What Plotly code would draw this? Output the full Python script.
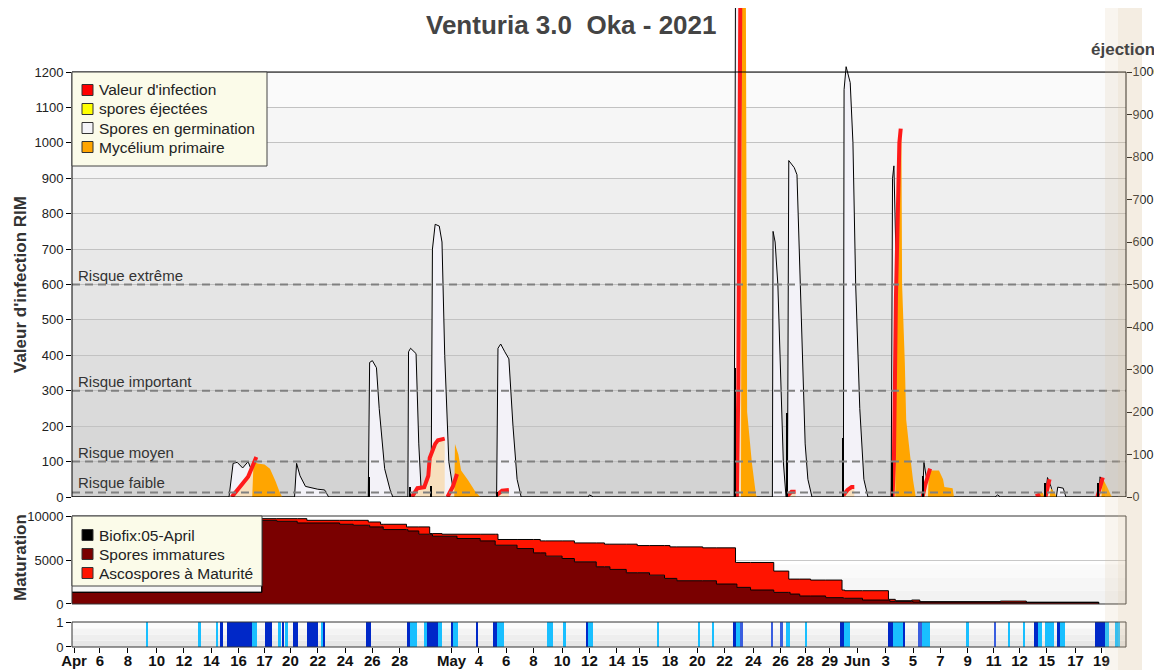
import plotly.graph_objects as go

# axe horizontal : jours depuis le 1er avril (echelle commune aux 3 panneaux)
tick_pos = [0.15, 2.05, 4.1, 6.2, 8.2, 10.2, 12.2, 14.1, 16.0, 18.0, 20.0, 22.0, 24.0, 27.8, 29.8,
            31.8, 33.8, 35.9, 37.9, 39.9, 41.6, 43.8, 45.8, 47.8, 49.9, 51.9, 53.7, 55.5, 57.5,
            59.6, 61.6, 63.6, 65.6, 67.5, 69.4, 71.4, 73.5, 75.4]
tick_txt = ['Apr', '6', '8', '10', '12', '14', '16', '17', '20', '22', '24', '26', '28', 'May', '4',
            '6', '8', '10', '12', '14', '15', '18', '20', '22', '24', '26', '28', '29', 'Jun',
            '3', '5', '7', '9', '11', '12', '15', '17', '19']

# Spores en germination (RIM)
germ_x = [0, 11.5, 11.8, 12.1, 12.5, 12.9, 13.3, 13.7,
          16.3, 16.45, 16.7, 17.1, 18.0, 18.5, 18.8,
          21.7, 21.8, 22.0, 22.3, 22.5, 22.9, 23.3, 23.5,
          24.6, 24.65, 24.8, 25.2, 25.4, 25.6,
          26.3, 26.4, 26.6, 26.9, 27.1, 27.3, 27.6, 28.0,
          31.1, 31.2, 31.4, 31.7, 32.0, 32.3, 32.6, 32.9,
          37.8, 37.9, 38.2,
          48.5, 48.6, 49.0, 49.3, 49.6,
          51.3, 51.35, 51.5, 51.7, 51.9, 52.1, 52.3,
          52.4, 52.5, 52.9, 53.1, 53.4, 53.7, 53.9, 54.2,
          56.5, 56.55, 56.7, 57.0, 57.2, 57.4, 57.7, 58.0, 58.3,
          60.0, 60.1, 60.2, 60.4, 60.6, 60.9,
          62.3, 62.4, 62.6, 62.8,
          67.6, 67.8, 68.0,
          71.3, 71.45, 71.7, 71.9, 72.1, 72.2, 72.6, 72.8,
          75.2, 75.3, 75.5, 75.7, 77.2]
germ_y = [0, 0, 95, 98, 82, 100, 60, 0,
          0, 95, 60, 30, 22, 20, 0,
          0, 380, 385, 365, 250, 80, 20, 0,
          0, 410, 420, 405, 150, 0,
          0, 700, 770, 765, 720, 400, 100, 0,
          0, 420, 432, 410, 390, 200, 50, 0,
          0, 6, 0,
          0, 1500, 1500, 300, 0,
          0, 750, 720, 600, 350, 100, 0,
          0, 950, 930, 910, 500, 150, 50, 0,
          0, 1150, 1215, 1170, 1000, 600, 250, 50, 0,
          0, 900, 935, 600, 200, 0,
          0, 98, 50, 0,
          0, 6, 0,
          0, 55, 30, 0, 0, 28, 25, 0,
          0, 57, 40, 0, 0]

# Valeur d'infection (RIM)
inf_x = [11.7, 12.5, 12.9, 13.2, 13.5, None,
         24.9, 25.3, 25.8, 26.1, 26.2, 26.6, 26.8, 27.3, None,
         27.5, 27.9, 28.2, None,
         31.1, 31.5, 32.0, None,
         48.7, 48.8, 48.95, 49.0, None,
         52.4, 52.7, 53.0, None,
         56.5, 56.8, 57.1, 57.3, None,
         60.1, 60.2, 60.35, 60.6, 60.7, None,
         62.3, 62.5, 62.85, None,
         70.6, 70.9, None,
         71.3, 71.6, None,
         75.1, 75.5]
inf_y = [0, 40, 57, 85, 113, None,
         0, 25, 28, 60, 110, 150, 160, 165, None,
         0, 30, 65, None,
         5, 18, 20, None,
         0, 300, 1400, 1500, None,
         3, 15, 15, None,
         5, 20, 28, 28, None,
         0, 96, 565, 1000, 1040, None,
         0, 35, 80, None,
         2, 8, None,
         0, 50, None,
         0, 55]

# Mycelium primaire (RIM)
myc_x = [13.2, 13.3, 13.6, 14.1, 14.5, 14.9, 15.2, 15.4, None,
         28.0, 28.05, 28.3, 28.5, 29.0, 29.5, 29.9, None,
         49.0, 49.05, 49.35, 49.45, 49.8, 50.1, 50.2, None,
         60.3, 60.35, 60.6, 60.75, 60.8, 61.0, 61.1, 61.4, 61.6, 61.8, None,
         62.7, 62.75, 63.5, 63.8, 63.9, 64.5, 64.6, None,
         70.7, 70.8, 71.1, 71.2, None,
         71.6, 71.7, 72.0, 72.1, None,
         75.4, 75.5, 75.8, 76.1, 76.2]
myc_y = [0, 100, 95, 92, 80, 45, 15, 0, None,
         0, 150, 120, 75, 48, 18, 0, None,
         0, 1500, 1500, 240, 96, 5, 0, None,
         0, 400, 900, 1030, 600, 380, 218, 113, 48, 0, None,
         0, 75, 75, 50, 28, 25, 0, None,
         0, 12, 12, 0, None,
         0, 25, 10, 0, None,
         0, 52, 30, 5, 0]

# ejection (axe de droite)
ej_x = [21.75, 24.75, 26.3, 31.1, 48.55, 52.4, 56.5, 60.05, 62.3, 71.3, 75.15]
ej_y = [48, 23, 25, 12, 303, 198, 138, 83, 50, 33, 33]

# maturation (paliers)
mat_x = [0, 13.9, 15.0, 16.5, 17.2, 19.6, 20.6, 21.7, 21.8, 22.6, 22.8, 24.5, 24.6, 25.4, 26.2,
         26.4, 27.1, 28.2, 29.9, 31.0, 31.2, 32.6, 33.8, 34.3, 34.7, 35.9, 36.8, 38.4, 39.0,
         39.4, 40.6, 41.4, 42.3, 43.4, 43.8, 44.3, 46.2, 47.2, 48.6, 48.7, 49.7, 51.4, 52.5,
         52.6, 53.3, 54.1, 55.2, 56.4, 56.5, 56.6, 57.9, 59.8, 59.9, 60.3, 61.5, 61.6, 62.1,
         68.0, 69.9, 75.2]
mat_total = [1330, 9700, 9700, 9700, 9510, 9510, 9510, 9320, 9320, 9060, 9060, 8760, 8760, 8760,
             8000, 8000, 7930, 7930, 7930, 7930, 7330, 7330, 7330, 7170, 7170, 7170, 6940, 6940,
             6800, 6800, 6800, 6640, 6640, 6640, 6490, 6490, 6380, 6380, 4720, 4720, 4720, 3740,
             2830, 2830, 2830, 2720, 2720, 1590, 1590, 1510, 1510, 530, 530, 370, 450, 450, 260,
             330, 190, 0]
mat_immat = [1330, 9510, 9400, 9210, 9210, 9060, 8950, 8950, 8760, 8760, 8460, 8460, 8300, 7930,
             7930, 7700, 7700, 7440, 7170, 6680, 6680, 6300, 5810, 5810, 5440, 5170, 4790, 4230,
             4230, 3930, 3550, 3550, 3280, 2910, 2910, 2640, 2640, 2270, 2270, 1890, 1590, 1320,
             1320, 1130, 910, 910, 720, 720, 650, 650, 450, 450, 300, 300, 300, 230, 230, 150,
             190, 0]

# periodes de mouillure (debut, fin) par intensite
wet_light_start = [5.45, 9.30, 10.60, 13.16, 15.07, 15.60, 18.29, 24.76, 25.81, 26.84, 27.93, 31.11,
                   34.78, 35.99, 37.82, 42.88, 45.84, 46.91, 48.64, 52.31, 53.70, 56.51, 60.17,
                   62.25, 65.55, 68.59, 69.69, 70.77, 71.28, 72.38, 75.68, 76.41]
wet_light_end = [5.55, 9.43, 10.70, 13.53, 15.29, 15.85, 18.39, 25.25, 25.99, 27.08, 28.26, 31.67,
                 35.26, 36.17, 38.19, 43.03, 46.01, 47.01, 48.99, 52.60, 53.82, 57.00, 60.90,
                 62.86, 65.69, 68.72, 69.82, 71.04, 71.89, 72.75, 75.92, 76.78]
wet_dark_start = [10.84, 11.33, 14.14, 15.36, 16.17, 17.19, 18.39, 21.52, 24.56, 25.99, 27.82, 29.65,
                  30.82, 37.66, 48.45, 56.26, 59.76, 60.90, 70.43, 72.14, 74.95]
wet_dark_end = [11.04, 13.16, 14.63, 15.55, 16.53, 18.04, 18.46, 21.88, 24.76, 26.84, 27.93, 29.72,
                31.11, 37.82, 48.64, 56.51, 60.17, 61.03, 70.77, 72.38, 75.68]
wet_mid_start = [48.99, 51.21, 51.87, 62.00, 67.55]
wet_mid_end = [49.13, 51.33, 52.07, 62.25, 67.69]

risk_levels = [600, 300, 100, 13]
risk_labels = ['Risque extrême', 'Risque important', 'Risque moyen', 'Risque faible']

legend1_names = ["Valeur d'infection", 'spores éjectées', 'Spores en germination', 'Mycélium primaire']
legend1_colors = ['#ff0000', '#ffff00', '#f4f4f8', '#ffa500']
legend2_names = ['Biofix:05-April', 'Spores immatures', 'Ascospores à Maturité']
legend2_colors = ['#000000', '#7a0000', '#ff1400']

FONT = 'Liberation Sans, Arial, sans-serif'
XMAX = 77.2
Y_TOP = 1380.7          # la zone du graphe monte jusqu'au haut de l'image
Y2_TOP = Y_TOP * 1000 / 1200


def segments(xs, ys):
    segs, cx, cy = [], [], []
    for a, b in zip(xs, ys):
        if a is None:
            segs.append((cx, cy))
            cx, cy = [], []
        else:
            cx.append(a)
            cy.append(b)
    if cx:
        segs.append((cx, cy))
    return segs


def px_x(px):  # pixel de l'image -> coordonnee papier
    return (px - 72) / 1054


def px_y(py):
    return (647 - py) / 639


fig = go.Figure()

# --- panneau RIM
fig.add_trace(go.Scatter(x=germ_x, y=germ_y, mode='lines', fill='tozeroy', fillcolor='#f3f2f8',
                         line=dict(color='black', width=1), showlegend=False, hoverinfo='skip'))
for sx, sy in segments(inf_x, inf_y):
    fig.add_trace(go.Scatter(x=sx, y=sy, mode='none', fill='tozeroy', fillcolor='#f7dfbd',
                             showlegend=False, hoverinfo='skip'))
for sx, sy in segments(myc_x, myc_y):
    fig.add_trace(go.Scatter(x=sx, y=sy, mode='none', fill='tozeroy', fillcolor='#ffa500',
                             showlegend=False, hoverinfo='skip'))
fig.add_trace(go.Scatter(x=inf_x, y=inf_y, mode='lines', line=dict(color='#ff1a1a', width=4),
                         showlegend=False, hoverinfo='skip'))
fig.add_trace(go.Bar(x=ej_x, y=ej_y, width=0.15, marker=dict(color='black', line=dict(width=0)),
                     yaxis='y2', showlegend=False, hoverinfo='skip'))

# --- panneau maturation
fig.add_trace(go.Scatter(x=mat_x, y=mat_immat, mode='lines', line_shape='hv', fill='tozeroy',
                         fillcolor='#7a0000', line=dict(color='black', width=1),
                         xaxis='x2', yaxis='y3', showlegend=False, hoverinfo='skip'))
fig.add_trace(go.Scatter(x=mat_x, y=mat_total, mode='lines', line_shape='hv', fill='tonexty',
                         fillcolor='#ff1400', line=dict(color='black', width=1),
                         xaxis='x2', yaxis='y3', showlegend=False, hoverinfo='skip'))

# --- panneau mouillure
for starts, ends, col in [(wet_light_start, wet_light_end, '#19bfff'),
                          (wet_dark_start, wet_dark_end, '#0028c8'),
                          (wet_mid_start, wet_mid_end, '#3a5ee0')]:
    fig.add_trace(go.Bar(x=[(a + b) / 2 for a, b in zip(starts, ends)],
                         y=[1] * len(starts),
                         width=[b - a for a, b in zip(starts, ends)],
                         marker=dict(color=col, line=dict(width=0)),
                         xaxis='x3', yaxis='y4', showlegend=False, hoverinfo='skip'))

shapes = []
# fond degrade du panneau RIM
for i in range(12):
    g = int(210 + (252 - 210) * (i + 0.5) / 12)
    shapes.append(dict(type='rect', xref='x domain', yref='y', x0=0, x1=1, y0=i * 100,
                       y1=(i + 1) * 100, line=dict(width=0), layer='below',
                       fillcolor=f'rgb({g},{g},{g})'))
# fond du panneau mouillure
for i in range(4):
    g = int(228 + (255 - 228) * (i + 0.5) / 4)
    shapes.append(dict(type='rect', xref='x3 domain', yref='y4', x0=0, x1=1, y0=i * 0.25,
                       y1=(i + 1) * 0.25, line=dict(width=0), layer='below',
                       fillcolor=f'rgb({g},{g},{g})'))
# bas du panneau maturation legerement gris
for i in range(3):
    g = int(240 + (252 - 240) * (i + 0.5) / 3)
    shapes.append(dict(type='rect', xref='x2 domain', yref='y3', x0=0, x1=1, y0=i * 1500,
                       y1=(i + 1) * 1500, line=dict(width=0), layer='below',
                       fillcolor=f'rgb({g},{g},{g})'))
# niveaux de risque
for lv in risk_levels:
    shapes.append(dict(type='line', xref='x domain', yref='y', x0=0, x1=1, y0=lv, y1=lv,
                       line=dict(color='#808080', width=2, dash='8px,5px'), layer='above'))
# cadres
shapes.append(dict(type='rect', xref='x domain', yref='y', x0=0, x1=1, y0=0, y1=1200,
                   line=dict(color='black', width=1), layer='above'))
shapes.append(dict(type='rect', xref='x2 domain', yref='y3 domain', x0=0, x1=1, y0=0, y1=1,
                   line=dict(color='#333', width=1), layer='above'))
shapes.append(dict(type='rect', xref='x3 domain', yref='y4 domain', x0=0, x1=1, y0=0, y1=1,
                   line=dict(color='#333', width=1), layer='above'))

annotations = [
    dict(text='<b>Venturia 3.0\u00a0\u00a0Oka - 2021</b>', xref='paper', yref='paper',
         x=px_x(571), y=px_y(25), xanchor='center', yanchor='middle', showarrow=False,
         font=dict(size=26, color='#444', family=FONT)),
    dict(text='<b>éjection</b>', xref='paper', yref='paper', x=px_x(1123), y=px_y(50),
         xanchor='center', yanchor='middle', showarrow=False,
         font=dict(size=17, color='#444', family=FONT)),
    dict(text="<b>Valeur d'infection RIM</b>", xref='paper', yref='paper', x=px_x(20),
         y=px_y(285), xanchor='center', yanchor='middle', textangle=-90, showarrow=False,
         font=dict(size=17, color='#333', family=FONT)),
    dict(text='<b>Maturation</b>', xref='paper', yref='paper', x=px_x(20), y=px_y(558),
         xanchor='center', yanchor='middle', textangle=-90, showarrow=False,
         font=dict(size=17, color='#333', family=FONT)),
]
for lv, lab in zip(risk_levels, risk_labels):
    annotations.append(dict(text=lab, xref='x domain', yref='y', x=0.004, y=lv, xanchor='left',
                            yanchor='bottom', showarrow=False, yshift=-1,
                            font=dict(size=15, color='#333', family=FONT)))

# legendes dessinees (boite, carres, textes)
for names, cols, box, y_first in [(legend1_names, legend1_colors, (72, 267, 72, 166), 90),
                                  (legend2_names, legend2_colors, (72, 262, 516, 586), 535)]:
    shapes.append(dict(type='rect', xref='paper', yref='paper', x0=px_x(box[0]),
                       x1=px_x(box[1]), y0=px_y(box[3]), y1=px_y(box[2]),
                       fillcolor='#fbfbe9', line=dict(color='#444', width=1), layer='above'))
    for k, (nm, col) in enumerate(zip(names, cols)):
        cy = y_first + 19 * k
        shapes.append(dict(type='rect', xref='paper', yref='paper', x0=px_x(82), x1=px_x(93),
                           y0=px_y(cy + 5.5), y1=px_y(cy - 5.5), fillcolor=col,
                           line=dict(color='#333', width=1), layer='above'))
        annotations.append(dict(text=nm, xref='paper', yref='paper', x=px_x(97), y=px_y(cy),
                                xanchor='left', yanchor='middle', showarrow=False,
                                font=dict(size=15.5, color='#222', family=FONT)))

# bande beige a droite
shapes.append(dict(type='rect', xref='paper', yref='paper', x0=px_x(1105), x1=px_x(1118),
                   y0=px_y(672), y1=px_y(0), line=dict(width=0),
                   fillcolor='rgba(215,190,150,0.15)', layer='above'))
shapes.append(dict(type='rect', xref='paper', yref='paper', x0=px_x(1118), x1=px_x(1142),
                   y0=px_y(672), y1=px_y(0), line=dict(width=0),
                   fillcolor='rgba(215,190,150,0.28)', layer='above'))

ax_common = dict(range=[0, XMAX], showgrid=False, zeroline=False, showline=False,
                 automargin=False)
tickf = dict(size=13, color='#222', family=FONT)

# la page ajoute 8 px de marge autour du graphe
fig.update_layout(
    width=1154, height=662,
    margin=dict(l=64, r=36, t=0, b=23),
    paper_bgcolor='white', plot_bgcolor='white',
    font=dict(family=FONT, size=13, color='#222'),
    showlegend=False,
    barmode='overlay', bargap=0,
    xaxis=dict(domain=[0, 1], anchor='y', showticklabels=False, **ax_common),
    xaxis2=dict(domain=[0, 1], anchor='y3', showticklabels=False, **ax_common),
    xaxis3=dict(domain=[0, 1], anchor='y4', tickvals=tick_pos, ticktext=tick_txt,
                ticks='outside', ticklen=5, tickcolor='black', ticklabelstandoff=-5,
                tickfont=dict(size=15, color='#111', family=FONT, weight='bold'), **ax_common),
    yaxis=dict(domain=[0.2347, 1], range=[0, Y_TOP], tickvals=list(range(0, 1201, 100)),
               ticks='outside', ticklen=5, tickcolor='black', showgrid=True,
               gridcolor='#c2c2c2', gridwidth=1, zeroline=False, showline=False,
               automargin=False, tickfont=tickf),
    yaxis2=dict(overlaying='y', side='right', anchor='x', range=[0, Y2_TOP],
                tickvals=list(range(0, 1001, 100)), ticks='outside', ticklen=5,
                tickcolor='black', showgrid=False, zeroline=False, showline=False,
                automargin=False, ticklabelstandoff=-2, tickfont=dict(size=12.5, color='#222',
                                                                      family=FONT)),
    yaxis3=dict(domain=[0.0673, 0.205], anchor='x2', range=[0, 10000], tickvals=[0, 5000, 10000],
                ticktext=['0', '5000', '10000'], ticks='outside', ticklen=5, tickcolor='black',
                showgrid=True, gridcolor='#c8c8c8', zeroline=False, showline=False,
                automargin=False, tickfont=tickf),
    yaxis4=dict(domain=[0, 0.0391], anchor='x3', range=[0, 1], tickvals=[0, 1], ticks='outside',
                ticklen=5, tickcolor='black', showgrid=False, zeroline=False, showline=False,
                automargin=False, tickfont=tickf),
    shapes=shapes,
    annotations=annotations,
)

fig.write_html("out.html")
